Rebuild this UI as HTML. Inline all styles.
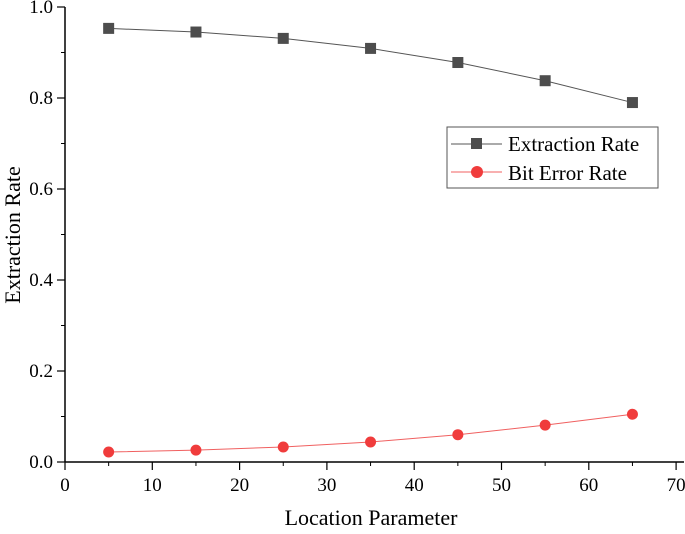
<!DOCTYPE html>
<html><head><meta charset="utf-8"><style>
body{margin:0;background:#fff}
svg text{font-family:"Liberation Serif",serif;fill:#000}
</style></head><body>
<svg id="chart" width="685" height="529" xmlns="http://www.w3.org/2000/svg">
<g id="axes"></g><g id="series"></g>
<g>
<rect x="447" y="127" width="211" height="61" fill="#fff" stroke="#555" stroke-width="1"/>
<g>
<line x1="451" y1="144" x2="502" y2="144" stroke="#555" stroke-width="1"/>
<rect x="471" y="138" width="11" height="11" fill="#4d4d4d"/>
<text x="508" y="151" font-size="21">Extraction Rate</text></g>
<g>
<line x1="451" y1="172" x2="502" y2="172" stroke="#f06060" stroke-width="1"/>
<circle cx="477" cy="172" r="6" fill="#f03c3c"/>
<text x="508" y="180" font-size="21">Bit Error Rate</text></g>
</g>
<text x="371" y="525" font-size="22" text-anchor="middle">Location Parameter</text>
<text transform="translate(20,235) rotate(-90)" font-size="22" text-anchor="middle">Extraction Rate</text>
</svg>
<script>
const xValues=[5,15,25,35,45,55,65];
const extractionRate=[0.953,0.945,0.931,0.909,0.878,0.838,0.790];
const bitErrorRate=[0.022,0.026,0.033,0.044,0.060,0.081,0.105];
const xTicks=[0,10,20,30,40,50,60,70];
const yTicks=[0.0,0.2,0.4,0.6,0.8,1.0];
const NS="http://www.w3.org/2000/svg";
const X=v=>65+v*8.73;
const Y=v=>462-v*455;
function mk(t,a,p){const e=document.createElementNS(NS,t);for(const k in a)e.setAttribute(k,a[k]);p.appendChild(e);return e;}
const ax=document.getElementById('axes');
let l=mk('line',{x1:65,y1:462,x2:684,y2:462,stroke:'#000','stroke-width':1.5},ax);


l=mk('line',{x1:65,y1:7,x2:65,y2:462,stroke:'#000','stroke-width':1.5},ax);


xTicks.forEach(v=>{mk('line',{x1:X(v),y1:462,x2:X(v),y2:470,stroke:'#000','stroke-width':1.2},ax);
 const t=mk('text',{x:X(v),y:491,'font-size':19,'text-anchor':'middle'},ax);t.textContent=v;
 
 
 if(v<70){mk('line',{x1:X(v+5),y1:462,x2:X(v+5),y2:466,stroke:'#000','stroke-width':1},ax);}
});
yTicks.forEach(v=>{mk('line',{x1:57,y1:Y(v),x2:65,y2:Y(v),stroke:'#000','stroke-width':1.2},ax);
 const t=mk('text',{x:53,y:Y(v)+6,'font-size':19,'text-anchor':'end'},ax);t.textContent=v.toFixed(1);
 
 
 if(v<1){mk('line',{x1:61,y1:Y(v+0.1),x2:65,y2:Y(v+0.1),stroke:'#000','stroke-width':1},ax);}
});
const sg=document.getElementById('series');
function path(vals){return vals.map((v,i)=>(i?'L':'M')+X(xValues[i])+','+Y(v)).join(' ');}
let p=mk('path',{d:path(extractionRate),fill:'none',stroke:'#555','stroke-width':1},sg);


p=mk('path',{d:path(bitErrorRate),fill:'none',stroke:'#f06060','stroke-width':1},sg);


extractionRate.forEach((v,i)=>{const r=mk('rect',{x:X(xValues[i])-5.5,y:Y(v)-5.5,width:11,height:11,fill:'#4d4d4d'},sg);
 
 });
bitErrorRate.forEach((v,i)=>{const c=mk('circle',{cx:X(xValues[i]),cy:Y(v),r:5.5,fill:'#f03c3c'},sg);
 
 });
</script>
</body></html>
